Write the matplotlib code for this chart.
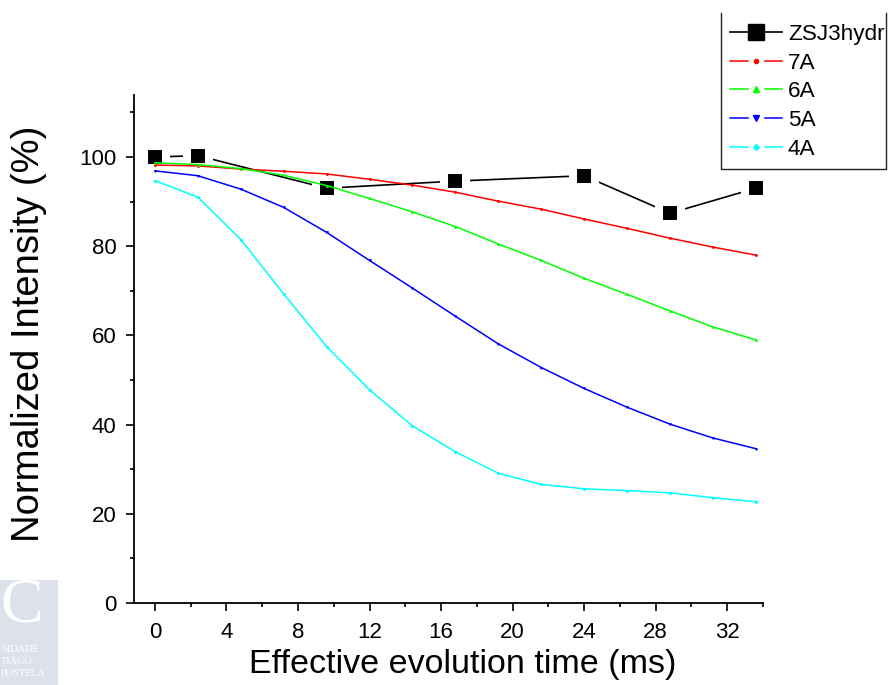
import matplotlib
matplotlib.use("Agg")
import matplotlib.pyplot as plt
from matplotlib.lines import Line2D
from matplotlib.legend_handler import HandlerBase
from matplotlib.patches import Rectangle
from matplotlib.ticker import MultipleLocator

plt.rcParams["font.family"] = ["Liberation Sans", "DejaVu Sans"]

# evolution times (ms) for the simulated curves
time_ms = [0, 2.4, 4.8, 7.2, 9.6, 12.0, 14.4, 16.8, 19.2, 21.6, 24.0, 26.4, 28.8, 31.2, 33.6]

# measured sample
zsj_time = [0, 2.4, 9.6, 16.8, 24.0, 28.8, 33.6]
zsj_vals = [100.0, 100.3, 93.0, 94.6, 95.8, 87.4, 93.0]

# simulated decays for different distances
curve_7a = [98.2, 98.0, 97.3, 96.8, 96.2, 95.0, 93.7, 92.1, 90.1, 88.3, 86.1, 84.0, 81.8, 79.8, 78.0]
curve_6a = [98.7, 98.3, 97.4, 95.9, 93.6, 90.7, 87.7, 84.4, 80.5, 76.8, 72.8, 69.2, 65.5, 61.9, 59.0]
curve_5a = [96.9, 95.8, 92.8, 88.7, 83.1, 76.8, 70.6, 64.3, 58.1, 52.8, 48.1, 43.9, 40.1, 37.0, 34.6]
curve_4a = [94.7, 91.0, 81.5, 69.3, 57.5, 47.8, 39.7, 33.9, 29.1, 26.6, 25.6, 25.2, 24.7, 23.6, 22.7]

series_labels = ["ZSJ3hydr", "7A", "6A", "5A", "4A"]
x_ticks = [0, 4, 8, 12, 16, 20, 24, 28, 32]
y_ticks = [0, 20, 40, 60, 80, 100]

W, H = 890, 685
fig = plt.figure(figsize=(W / 100, H / 100), dpi=100)
ax = fig.add_axes([134 / W, 1 - 603 / H, 629 / W, 508 / H])

# measured data: line with gaps around the square symbols
ax.plot(zsj_time, zsj_vals, color="black", lw=1.2, zorder=2)
ax.plot(zsj_time, zsj_vals, ls="none", marker="s", ms=15.8, mfc="black",
        mec="white", mew=5.8, zorder=3)

sim = [
    (curve_7a, "#ff0000", "o"),
    (curve_6a, "#00ff00", "^"),
    (curve_5a, "#0000ff", "v"),
    (curve_4a, "#00ffff", "D"),
]
for vals, col, mk in sim:
    ax.plot(time_ms, vals, color=col, lw=1.1, marker=mk, ms=1.1, zorder=4)

ax.set_xlim(-1.17, 34.0)
ax.set_ylim(0, 113.9)
ax.set_xticks(x_ticks)
ax.set_yticks(y_ticks)
ax.set_xticklabels([str(v) for v in x_ticks])
ax.set_yticklabels([str(v) for v in y_ticks])
ax.xaxis.set_minor_locator(MultipleLocator(2))
ax.yaxis.set_minor_locator(MultipleLocator(10))
ax.tick_params(which="major", direction="out", length=5.5, width=1.2,
               labelsize=16)
ax.tick_params(axis="x", which="major", pad=8.5)
ax.tick_params(axis="y", which="major", pad=7)
ax.tick_params(which="minor", direction="out", length=3, width=1.2)
for side in ("top", "right"):
    ax.spines[side].set_visible(False)
for side in ("left", "bottom"):
    ax.spines[side].set_linewidth(1.3)

fig.text(463 / W, 1 - 665 / H, "Effective evolution time (ms)", fontsize=24.5,
         ha="center", va="center")
fig.text(29 / W, 1 - 334 / H, "Normalized Intensity (%)", fontsize=27.5,
         ha="center", va="center", rotation=90)


class GapLineHandler(HandlerBase):
    """Legend key drawn as: segment, symbol, segment."""

    def create_artists(self, legend, orig_handle, xdescent, ydescent, width,
                       height, fontsize, trans):
        y = height / 2 - ydescent
        x0 = -xdescent
        col = orig_handle.get_color()
        lw = orig_handle.get_linewidth()
        s1 = Line2D([x0, x0 + 0.34 * width], [y, y], color=col, lw=lw)
        s2 = Line2D([x0 + 0.68 * width, x0 + width], [y, y], color=col, lw=lw)
        m = Line2D([x0 + 0.5 * width], [y], ls="none",
                   marker=orig_handle.get_marker(),
                   ms=orig_handle.get_markersize(), color=col)
        for a in (s1, s2, m):
            a.set_transform(trans)
        return [s1, s2, m]


handles = [
    Line2D([], [], color="black", lw=1.2, marker="s", ms=11),
    Line2D([], [], color="#ff0000", lw=1.1, marker="o", ms=3),
    Line2D([], [], color="#00ff00", lw=1.1, marker="^", ms=4),
    Line2D([], [], color="#0000ff", lw=1.1, marker="v", ms=4),
    Line2D([], [], color="#00ffff", lw=1.1, marker="D", ms=3),
]
fig.legend(handles, series_labels, loc="upper left",
           bbox_to_anchor=(730 / W, 1 - 24 / H), bbox_transform=fig.transFigure,
           frameon=False, fontsize=16.2, handlelength=2.3, handletextpad=0.27,
           labelspacing=0.34, borderpad=0, borderaxespad=0,
           handler_map={Line2D: GapLineHandler()})

# legend frame (top edge falls outside the canvas)
fig.add_artist(Line2D([721 / W, 721 / W, 886 / W, 886 / W],
                      [1 - 13 / H, 1 - 169 / H, 1 - 169 / H, 1 - 13 / H],
                      transform=fig.transFigure, color="#222222", lw=1.0))

# university watermark in the lower-left corner
fig.add_artist(Rectangle((0, 0), 58 / W, 105 / H, transform=fig.transFigure,
                         facecolor="#dde1ec", edgecolor="none", zorder=0))
fig.text(22 / W, 1 - 606 / H, "C", fontsize=46, color="white",
         family="Liberation Serif", ha="center", va="center")
for txt, yy in (("SIDADE", 649), ("TIAGO", 661), ("POSTELA", 673)):
    fig.text(1 / W, 1 - yy / H, txt, fontsize=7.5, color="white",
             family="Liberation Serif", ha="left", va="center")

fig.savefig("out.png", dpi=100)
